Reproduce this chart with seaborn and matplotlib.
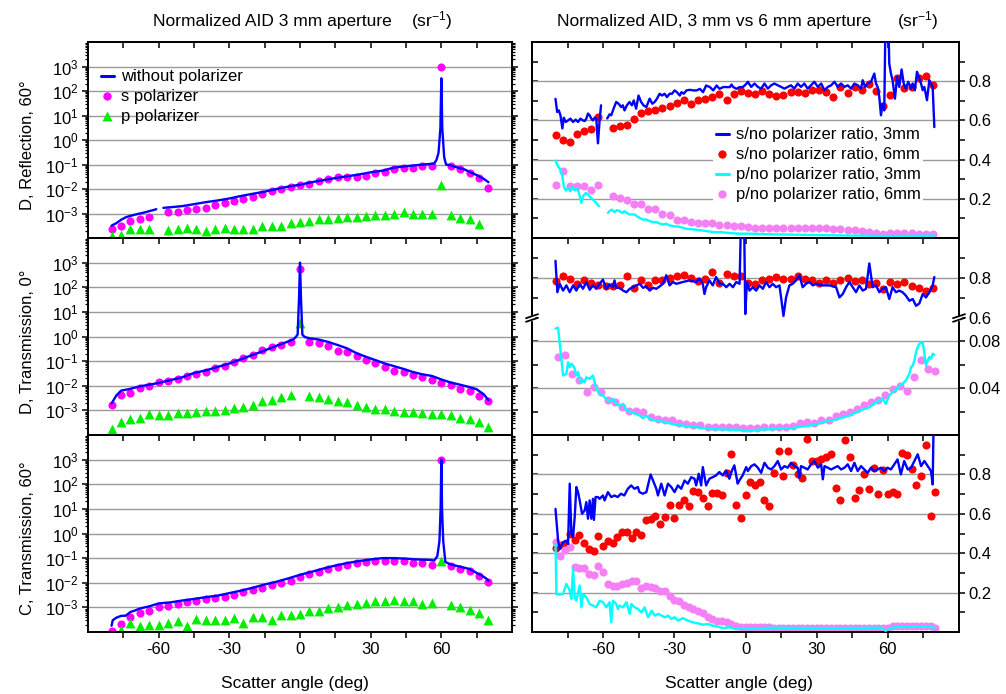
import numpy as np
import matplotlib
matplotlib.use('Agg')
import matplotlib.pyplot as plt
import seaborn as sns
from matplotlib.lines import Line2D
from matplotlib.patches import Rectangle
from matplotlib.ticker import LogLocator, NullFormatter

sns.set_style('white')
plt.rcParams['font.family'] = ['Liberation Sans', 'DejaVu Sans']
plt.rcParams['mathtext.default'] = 'regular'
plt.rcParams['axes.unicode_minus'] = False
plt.rcParams['font.size'] = 12
plt.rcParams['axes.edgecolor'] = 'black'
plt.rcParams['axes.linewidth'] = 1.4
plt.rcParams['xtick.color'] = 'black'
plt.rcParams['ytick.color'] = 'black'
plt.rcParams['text.color'] = 'black'

NAN = np.nan
BLUE = '#0000ff'
MAGENTA = '#ff00ff'
GREEN = '#00ee00'
RED = '#ff0000'
PINK = '#f580f5'
CYAN = '#00ffff'
GRID = '#9a9a9a'

# ---------------- left column: normalized AID, 3 mm aperture ----------------
ang4 = list(range(-80, 81, 4))

refl_s = [2.3e-4, 3.0e-4, 5.0e-4, 6.0e-4, 7.0e-4, NAN, 1.1e-3, 1.2e-3, 1.35e-3, 1.5e-3,
          1.6e-3, 2.2e-3, 2.6e-3, 3.2e-3, 3.8e-3, 4.9e-3, 6.5e-3, 8.3e-3, 0.0102, 0.012,
          0.0145, 0.0155, 0.021, 0.025, 0.030, 0.030, 0.031, 0.033, 0.046, 0.050,
          0.064, 0.070, 0.071, 0.085, 0.090, 1000, 0.085, 0.065, 0.045, 0.029, 0.011]
refl_p = [1.2e-4, 1.3e-4, 2.3e-4, 2.3e-4, 2.4e-4, NAN, 2.1e-4, 2.4e-4, 2.6e-4, 2.3e-4,
          2.0e-4, 2.3e-4, 2.6e-4, 2.3e-4, 2.4e-4, 2.4e-4, 3.0e-4, 3.0e-4, 3.2e-4, 4.0e-4,
          4.6e-4, 5.0e-4, 5.8e-4, 6.2e-4, 6.5e-4, 7.2e-4, 7.0e-4, 8.0e-4, 8.5e-4, 8.7e-4,
          1.0e-3, 1.1e-3, 1.0e-3, 1.0e-3, 1.0e-3, 0.014, 8.5e-4, 6.3e-4, 5.8e-4, 3.7e-4, NAN]
refl_ang = [-80, -78, -76, -74, -72, -70, -68, -66, -64, -62, -61, -60, -58, -55, -50, -45,
            -40, -35, -30, -25, -20, -15, -10, -5, 0, 5, 10, 15, 20, 25, 30, 35, 40, 45, 50,
            55, 57, 58, 58.8, 59.6, 60, 60.4, 61.2, 62, 64, 67, 70, 72, 75, 78, 80]
refl_no = [3.2e-4, 4.0e-4, 5.5e-4, 7.0e-4, 8.0e-4, 9.0e-4, 1.0e-3, 1.1e-3, 1.25e-3, 1.4e-3,
           1.5e-3, NAN, 1.7e-3, 1.8e-3, 2.0e-3, 2.4e-3, 2.9e-3, 3.4e-3, 4.1e-3, 5.2e-3,
           6.4e-3, 7.8e-3, 0.010, 0.0125, 0.015, 0.019, 0.023, 0.028, 0.033, 0.039, 0.048,
           0.056, 0.075, 0.085, 0.095, 0.105, 0.11, 0.16, 0.3, 3, 330, 3, 0.2, 0.1, 0.092,
           0.075, 0.062, 0.05, 0.037, 0.026, 0.019]

trans0_s = [1.7e-3, 4.4e-3, 5.1e-3, 8.2e-3, 9.5e-3, 0.014, 0.016, 0.018, 0.024, 0.030,
            0.037, 0.051, 0.065, 0.095, 0.13, 0.18, 0.29, 0.36, 0.45, 0.61, 540, 0.61,
            0.52, 0.42, 0.25, 0.23, 0.165, 0.115, 0.081, 0.059, 0.041, 0.036, 0.028,
            0.022, 0.017, 0.013, 0.0105, 0.0074, 0.006, 0.0037, 0.0023]
trans0_p = [1.8e-4, 3.3e-4, 4.6e-4, 5.0e-4, 7.2e-4, 6.6e-4, 6.6e-4, 7.8e-4, 7.8e-4, 8.5e-4,
            9.3e-4, 9.3e-4, 1.05e-3, 1.2e-3, 1.4e-3, 1.7e-3, 2.3e-3, 2.7e-3, 3.4e-3, 4.3e-3,
            3.5, 3.7e-3, 3.4e-3, 3.0e-3, 2.5e-3, 2.1e-3, 1.7e-3, 1.35e-3, 1.15e-3, 1.15e-3,
            9.8e-4, 8.9e-4, 8.5e-4, 7.8e-4, 7.2e-4, 6.8e-4, 6.6e-4, 5.0e-4, 4.6e-4, 3.5e-4, 2.1e-4]
trans0_ang = [-80, -78, -76, -72, -68, -64, -60, -55, -50, -45, -40, -35, -30, -25, -20,
              -15, -10, -6, -3, -2, -1, -0.4, 0, 0.4, 1, 2, 4, 8, 12, 16, 20, 24, 28, 32,
              36, 40, 44, 48, 52, 56, 60, 64, 68, 72, 75, 78, 80]
trans0_no = [1.9e-3, 4.0e-3, 6.3e-3, 7.5e-3, 9.5e-3, 0.011, 0.013, 0.017, 0.022, 0.033,
             0.042, 0.058, 0.08, 0.12, 0.18, 0.27, 0.42, 0.58, 0.75, 0.9, 1.2, 40, 1000,
             40, 1.2, 0.95, 0.85, 0.75, 0.6, 0.45, 0.33, 0.21, 0.15, 0.11, 0.08, 0.062,
             0.048, 0.036, 0.029, 0.025, 0.018, 0.0135, 0.011, 0.0088, 0.0072, 0.0045, 0.0026]

c60_s = [1.1e-4, 2.1e-4, 4.1e-4, 5.9e-4, 7.1e-4, 1.0e-3, 1.1e-3, 1.4e-3, 1.65e-3, 1.75e-3,
         2.1e-3, 2.4e-3, 2.6e-3, 3.2e-3, 4.2e-3, 4.9e-3, 6.0e-3, 7.8e-3, 0.010, 0.0123,
         0.017, 0.023, 0.027, 0.037, 0.044, 0.055, 0.063, 0.069, 0.076, 0.076, 0.076,
         0.074, 0.066, 0.063, 0.055, 930, 0.046, 0.035, 0.030, 0.019, 0.011]
c60_p = [NAN, 1.26e-4, 2.3e-4, 1.8e-4, 1.95e-4, 1.95e-4, 2.3e-4, 2.75e-4, 1.8e-4, 3.5e-4,
         3.2e-4, 3.2e-4, 3.2e-4, 3.6e-4, 2.3e-4, 4.0e-4, 4.0e-4, 3.0e-4, 4.7e-4, 5.0e-4,
         5.5e-4, 6.8e-4, 7.2e-4, 9.3e-4, 1.0e-3, 1.3e-3, 1.4e-3, 1.5e-3, 1.75e-3, 1.75e-3,
         2.0e-3, 1.9e-3, 1.75e-3, 1.4e-3, 1.55e-3, 0.074, 1.3e-3, 1.0e-3, 8.1e-4, 6.0e-4, 3.0e-4]
c60_ang = [-80, -79.5, -78, -76, -74, -72, -70, -68, -64, -60, -55, -50, -45, -40, -35, -30,
           -25, -20, -15, -10, -5, 0, 5, 10, 15, 20, 25, 30, 35, 40, 45, 50, 55, 57, 58.3,
           59.2, 59.7, 60, 60.3, 60.8, 61.7, 64, 68, 72, 75, 77, 79, 80]
c60_no = [1.8e-4, 3.0e-4, 3.8e-4, 4.5e-4, 4.6e-4, 6.5e-4, 7.5e-4, 9.0e-4, 1.1e-3, 1.45e-3,
          1.6e-3, 1.9e-3, 2.2e-3, 2.6e-3, 3.0e-3, 3.8e-3, 4.8e-3, 6.3e-3, 8.5e-3, 0.011,
          0.015, 0.021, 0.028, 0.038, 0.050, 0.063, 0.076, 0.088, 0.10, 0.10, 0.095, 0.088,
          0.085, 0.08, 0.12, 0.5, 10, 1000, 10, 0.5, 0.07, 0.055, 0.045, 0.036, 0.025,
          0.02, 0.015, 0.012]

# ---------------- right column: polarizer ratios, 3 mm vs 6 mm ----------------
ang3 = list(range(-80, 80, 3))
ang3b = list(range(-79, 81, 3))
ang2 = list(range(-80, 81, 2))

# D, Reflection, 60 deg
r1_s3_ang = [-80.1, -79.4, -78.7, -78.0, -77.2, -76.6, -75.8, -74.8, -73.8, -72.7,
             -71.6, -70.6, -69.6, -68.5, -67.8, -67.1, -66.4, -65.7, -65.0, -64.3,
             -63.6, -62.9, -62.2, -61.5, -60.9, -60, -58.3, -57.3, -56.6, -55.6, -54.5,
             -53.5, -52.4, -51.7, -51.0, -50.0, -48.9, -47.9, -47.1, -46.1, -45.1, -44.0,
             -43.0, -41.8, -40.4, -39.3, -38.3, -37.3, -36.2, -35.2, -34.1, -33.1, -32.0,
             -31.0, -29.9, -28.9, -27.7, -27.0, -26.0, -24.9, -23.4, -22.0, -20.6, -19.2,
             -17.9, -16.6, -15.0, -13.6, -12.2, -10.9, -9.4, -8.0, -6.6, -5.9, -5.2, -3.8,
             -2.5, -1.1, 0.3,
             1.0, 2.4, 3.8, 5.2, 6.6, 8.0, 9.4, 10.8, 12.2, 13.6, 15.0, 16.4, 17.8, 19.2,
             20.6, 22.0, 23.4, 24.8, 26.2, 27.6, 29.0, 30.5, 31.9, 33.3, 34.7, 36.1, 37.5,
             38.9, 40.3, 41.7, 43.1, 44.5, 45.9, 47.3, 48.7, 49.4, 50.4, 51.5, 52.9, 54.3,
             55.0, 55.7, 56.4, 57.1, 57.8, 58.5, 59.2, 59.9, 60.6, 61.3, 62.0, 63.0, 63.9,
             64.8, 65.8, 66.7, 67.6, 68.6, 69.8, 70.5, 71.4, 72.3, 73.3, 74.0, 74.7, 75.4,
             76.5, 77.5, 78.2, 78.9, 79.6]
r1_s3 = [0.71, 0.643, 0.651, 0.626, 0.559, 0.614, 0.592, 0.60, 0.609, 0.592,
         0.604, 0.592, 0.609, 0.60, 0.597, 0.609, 0.635, 0.626, 0.609, 0.60,
         0.614, 0.609, 0.483, 0.60, 0.677, NAN, 0.61, 0.631, 0.626, 0.66, 0.694,
         0.685, 0.668, 0.677, 0.651, 0.677, 0.694, 0.677, 0.702, 0.66, 0.727, 0.694,
         0.677, 0.668, 0.711, 0.685, 0.694, 0.711, 0.736, 0.727, 0.736, 0.719, 0.736,
         0.736, 0.753, 0.744, 0.727, 0.744, 0.736, 0.753, 0.756, 0.753, 0.753, 0.761,
         0.744, 0.778, 0.77, 0.753, 0.778, 0.761, 0.77, 0.77, 0.77, 0.783, 0.77, 0.761,
         0.77, 0.77, 0.786,
         0.797, 0.771, 0.788, 0.771, 0.762, 0.788, 0.762, 0.779, 0.788, 0.779, 0.771,
         0.762, 0.771, 0.779, 0.762, 0.788, 0.771, 0.788, 0.762, 0.779, 0.797, 0.771,
         0.788, 0.754, 0.771, 0.779, 0.797, 0.771, 0.788, 0.771, 0.779, 0.762, 0.788,
         0.779, 0.762, 0.805, 0.771, 0.788, 0.797, 0.839, 0.788, 0.771, 0.72, 0.626,
         0.685, 0.651, 1.3, 1.3, 0.89, 0.839, 0.805, 0.711, 0.822, 0.771, 0.86, 0.788,
         0.762, 0.797, 0.762, 0.788, 0.754, 0.848, 0.814, 0.788, 0.754, 0.771, 0.703,
         0.805, 0.788, 0.771, 0.566]
r1_s6 = [0.525, 0.50, 0.488, 0.533, 0.547, 0.554, 0.618, NAN, 0.559, 0.57, 0.576, 0.609,
         0.638, 0.648, 0.651, 0.663, 0.672, 0.69, 0.702, 0.685, 0.705, 0.71, 0.719, 0.736,
         0.705, 0.736, 0.748, 0.74, 0.737, 0.75, 0.737, 0.723, 0.728, 0.745, 0.745, 0.742,
         0.754, 0.754, 0.745, 0.72, 0.77, 0.74, 0.77, 0.757, 0.788, 0.75, 0.674, 0.732,
         0.814, 0.766, 0.77, 0.814, 0.826, 0.78]
r1_p3_ang = [-80.1, -79.0, -78.0, -77.2, -76.6, -75.8, -74.8, -73.8, -73.0, -72.0, -71.0,
             -70.2, -69.2, -68.5, -67.3, -66.4, -65.7, -64.3, -62.9, -61.8, -60, -58.0,
             -57.3, -56.3, -55.2, -54.2, -53.1, -52.0, -51.0, -50.0, -48.9, -47.9, -46.7,
             -45.8, -44.7, -43.2, -41.8, -40.4, -39.0, -37.6, -36.2, -34.8, -33.4, -32.0,
             -30.6, -27.8, -24.9, -22.1, -19.2, -16.4, -13.6, -10.9, -8.1, -5.3, -2.5, 1.7,
             10, 20, 30, 40, 50, 60, 70, 79.6]
r1_p3 = [0.395, 0.365, 0.348, 0.314, 0.263, 0.243, 0.255, 0.238, 0.263, 0.243, 0.255,
         0.23, 0.179, 0.213, 0.23, 0.221, 0.213, 0.196, 0.179, 0.162, NAN, 0.128, 0.137,
         0.145, 0.132, 0.142, 0.137, 0.128, 0.137, 0.128, 0.12, 0.12, 0.12, 0.111, 0.103,
         0.094, 0.094, 0.086, 0.081, 0.081, 0.074, 0.069, 0.073, 0.064, 0.061, 0.057,
         0.047, 0.044, 0.04, 0.035, 0.03, 0.03, 0.027, 0.024, 0.022, 0.022, 0.019, 0.017,
         0.015, 0.013, 0.012, 0.01, 0.011, 0.012]
r1_p6 = [0.268, 0.344, 0.263, 0.263, 0.263, 0.243, 0.272, NAN, 0.213, 0.204, 0.196, 0.176,
         0.176, 0.149, 0.149, 0.12, 0.115, 0.094, 0.094, 0.083, 0.078, 0.078, 0.075, 0.066,
         0.064, 0.061, 0.061, 0.055, 0.053, 0.053, 0.053, 0.052, 0.052, 0.052, 0.052, 0.052,
         0.051, 0.05, 0.05, 0.047, 0.045, 0.042, 0.04, 0.036, 0.032, 0.028, 0.019, 0.025,
         0.024, 0.024, 0.023, 0.022, 0.022, 0.021]

# D, Transmission, 0 deg (broken axis)
r2_s3_ang = [-80.1, -79.3, -78.3, -76.9, -75.5, -74.1, -72.7, -71.3, -69.9, -68.5, -67.1,
             -65.7, -64.3, -62.9, -61.5, -60.1, -58.7, -57.3, -55.9, -55.2, -54.5, -53.1,
             -51.6, -50.2, -48.8, -47.4, -46.0, -44.6, -43.2, -41.8, -40.4, -39.0, -37.6,
             -36.2, -34.8, -33.4, -32.0, -30.6, -29.2, -26.4, -23.6, -20.8, -19.4, -18.0,
             -17.3, -16.6, -15.2, -13.8, -12.4, -10.9, -9.5, -8.1, -6.7, -5.3, -3.9, -2.5,
             -1.5, -0.8, -0.1, 0.6, 1.7, 3.1, 4.5, 5.9, 7.3, 8.7, 10.1, 11.5, 12.9, 14.3,
             15.0, 16.0, 17.1, 18.5, 19.9, 21.3, 22.7, 24.1, 25.5, 26.9, 28.4, 29.8, 32.6,
             35.4, 38.2, 39.6, 41.0, 42.4, 43.8, 45.2, 46.6, 48.0, 49.4, 50.8, 52.2, 53.6,
             55.0, 56.4, 57.8, 59.2, 60.6, 62.0, 63.4, 64.8, 66.2, 67.6, 69.1, 70.5, 71.9,
             73.3, 74.7, 76.1, 77.5, 78.9, 79.6]
r2_s3 = [0.886, 0.729, 0.771, 0.737, 0.763, 0.729, 0.763, 0.737, 0.771, 0.746, 0.78,
         0.741, 0.763, 0.746, 0.771, 0.792, 0.746, 0.768, 0.754, 0.788, 0.751, 0.751,
         0.737, 0.729, 0.746, 0.754, 0.763, 0.771, 0.751, 0.758, 0.737, 0.751, 0.746,
         0.758, 0.771, 0.814, 0.763, 0.78, 0.771, 0.78, 0.788, 0.78, 0.797, 0.771, 0.72,
         0.754, 0.788, 0.763, 0.805, 0.771, 0.771, 0.754, 0.771, 0.754, 0.78, 0.771, 1.3,
         1.3, 0.62, 0.78, 0.737, 0.754, 0.737, 0.763, 0.746, 0.78, 0.754, 0.771, 0.754,
         0.763, 0.703, 0.61, 0.703, 0.763, 0.771, 0.788, 0.814, 0.754, 0.771, 0.78, 0.763,
         0.771, 0.763, 0.763, 0.754, 0.703, 0.72, 0.754, 0.78, 0.754, 0.729, 0.763, 0.737,
         0.746, 0.873, 0.754, 0.763, 0.729, 0.746, 0.754, 0.695, 0.754, 0.729, 0.737,
         0.729, 0.712, 0.686, 0.695, 0.661, 0.673, 0.72, 0.703, 0.729, 0.763, 0.805]
r2_s6 = [0.783, 0.81, 0.797, 0.768, 0.788, 0.776, 0.763, 0.758, 0.758, 0.766, 0.808, 0.751,
         0.788, 0.763, 0.792, 0.792, 0.80, 0.808, 0.814, 0.80, 0.785, 0.797, 0.83, 0.776,
         0.819, 0.808, 0.808, 0.775, 0.768, 0.788, 0.797, 0.805, 0.797, 0.797, 0.81, 0.797,
         0.788, 0.776, 0.792, 0.775, 0.792, 0.802, 0.785, 0.788, 0.771, 0.776, 0.746, 0.78,
         0.771, 0.78, 0.758, 0.751, 0.737, 0.751]
r2_p3_ang = [-80.1, -79.0, -76.9, -75.5, -74.8, -74.1, -73.4, -72.7, -72.0, -71.3, -70.6,
             -69.9, -69.2, -68.5, -67.8, -67.1, -65.7, -64.3, -63.6, -62.9, -61.5, -60.1,
             -58.7, -57.3, -55.9, -54.5, -53.1, -51.6, -50.2, -48.8, -47.4, -46.0, -44.6,
             -43.2, -41.8, -40.4, -37.6, -34.8, -32.0, -29.2, -26.4, -23.6, -20.8, -18.0,
             -15.2, -8.1, -1.1, 0.3, 5.9, 12.9, 19.9, 24.1, 26.9, 29.8, 32.6, 35.4, 38.2,
             41.0, 43.8, 46.6, 49.4, 52.2, 55.0, 57.8, 59.2, 60.6, 62.0, 63.4, 64.8, 66.2,
             67.6, 69.1, 69.8, 70.5, 71.2, 71.9, 72.6, 73.3, 74.7, 75.4, 76.1, 76.8, 77.5,
             78.2, 78.9, 79.6]
r2_p3 = [0.0909, 0.0917, 0.0509, 0.0523, 0.0623, 0.058, 0.0609, 0.0594, 0.0566, 0.0509,
         0.0537, 0.048, 0.0451, 0.0466, 0.0451, 0.0494, 0.048, 0.0509, 0.0451, 0.0394,
         0.0351, 0.0337, 0.0309, 0.0286, 0.0309, 0.0266, 0.0251, 0.0266, 0.0209, 0.02,
         0.0194, 0.018, 0.0166, 0.0143, 0.0166, 0.0137, 0.0123, 0.0114, 0.01, 0.0086,
         0.008, 0.0074, 0.0066, 0.006, 0.0051, 0.0046, 0.0043, 0.0031, 0.0046, 0.0051,
         0.006, 0.0074, 0.008, 0.0089, 0.0109, 0.0123, 0.0131, 0.0151, 0.0166, 0.0194,
         0.0217, 0.0237, 0.028, 0.0309, 0.0266, 0.0337, 0.0366, 0.038, 0.0423, 0.0437,
         0.0466, 0.0523, 0.058, 0.0594, 0.0637, 0.0709, 0.0751, 0.078, 0.0794, 0.0694,
         0.0594, 0.0637, 0.0666, 0.0651, 0.0694, 0.0686]
r2_p6 = [0.0666, 0.0686, 0.0523, 0.0466, 0.0371, 0.0409, 0.0366, 0.03, 0.0286, 0.0237,
         0.0209, 0.0209, 0.0194, 0.0151, 0.0137, 0.0131, 0.0129, 0.01, 0.0094, 0.0089,
         0.0086, 0.0069, 0.0066, 0.0066, 0.0066, 0.0066, 0.006, 0.0057, 0.006, 0.0066,
         0.0066, 0.0066, 0.0071, 0.008, 0.01, 0.0109, 0.01, 0.0129, 0.0131, 0.016,
         0.018, 0.02, 0.0223, 0.0257, 0.028, 0.0303, 0.0343, 0.0394, 0.0417, 0.038,
         0.0494, 0.0637, 0.0566, 0.0551]

# C, Transmission, 60 deg
r3_s3_ang = [-80.1, -79.0, -78.3, -76.9, -75.5, -74.8, -74.1, -73.4, -72.7, -72.0, -71.3,
             -70.6, -69.9, -68.9, -67.8, -67.1, -66.4, -65.7, -65.0, -64.3, -63.9, -63.2,
             -62.2, -61.5, -60.1, -59.4, -58.0, -56.6, -55.2, -53.9, -52.5, -51.1, -49.6,
             -48.2, -46.8, -45.4, -44.7, -43.3, -41.8, -40.0, -39.0, -37.6, -36.9, -35.5,
             -34.1, -32.7, -31.3, -29.9, -28.5, -27.1, -25.7, -24.3, -22.9, -21.5, -20.8,
             -19.7, -18.7, -18.0, -16.6, -15.2, -13.8, -12.4, -11.0, -9.6, -8.2, -6.8,
             -5.7, -4.7, -3.3, -2.6, -1.2, 0.3,
             1.0, 2.4, 3.8, 5.2, 6.6, 8.0, 9.4, 10.8, 12.2, 13.6, 15.0, 16.4, 17.8, 19.2,
             20.6, 22.0, 22.7, 23.4, 24.8, 26.2, 27.6, 29.0, 30.5, 31.9, 32.6, 33.3, 34.7,
             36.1, 37.5, 38.9, 40.3, 41.7, 43.1, 44.5, 45.9, 47.3, 48.7, 50.1, 51.5, 52.9,
             54.3, 55.7, 57.1, 58.5, 59.9, 61.3, 62.7, 64.1, 65.5, 66.2, 66.9, 68.4, 69.8,
             71.2, 72.6, 74.0, 75.4, 76.8, 78.2, 78.9, 79.6]
r3_s3 = [0.625, 0.464, 0.422, 0.456, 0.464, 0.447, 0.753, 0.498, 0.481, 0.583, 0.736,
         0.71, 0.668, 0.60, 0.617, 0.659, 0.575, 0.668, 0.575, 0.676, 0.569, 0.685,
         0.685, 0.676, 0.693, 0.668, 0.71, 0.685, 0.693, 0.685, 0.702, 0.693, 0.727,
         0.744, 0.727, 0.736, 0.71, 0.702, 0.71, 0.80, 0.769, 0.727, 0.693, 0.753,
         0.693, 0.753, 0.736, 0.71, 0.744, 0.727, 0.769, 0.753, 0.786, 0.778, 0.744,
         0.803, 0.744, 0.837, 0.744, 0.778, 0.786, 0.795, 0.812, 0.795, 0.82, 0.778,
         0.82, 0.846, 0.753, 0.769, 0.795, 0.837,
         0.817, 0.842, 0.851, 0.834, 0.808, 0.859, 0.834, 0.825, 0.842, 0.868, 0.825,
         0.842, 0.834, 0.859, 0.842, 0.834, 0.783, 0.842, 0.834, 0.825, 0.851, 0.868,
         0.834, 0.851, 0.775, 0.842, 0.834, 0.825, 0.834, 0.842, 0.825, 0.834, 0.851,
         0.817, 0.859, 0.817, 0.842, 0.825, 0.808, 0.834, 0.817, 0.825, 0.834, 0.817,
         0.834, 0.825, 0.851, 0.876, 0.80, 0.834, 0.868, 0.825, 0.834, 0.868, 0.902,
         0.842, 0.868, 0.842, 0.817, 0.749, 1.3]
r3_s6 = [0.425, 0.44, 0.447, 0.498, 0.468, 0.49, 0.453, 0.422, 0.41, 0.488,
         0.439, 0.464, 0.454, 0.481, 0.507, 0.507, 0.478, 0.51, 0.49, 0.571,
         0.575, 0.59, 0.546, 0.585, 0.644, 0.58, 0.644, 0.668, 0.642, 0.715,
         0.71, 0.678, 0.64, 0.705, 0.705, 0.693, 0.807, 0.905, 0.646, 0.58,
         0.695, 0.761, 0.744, 0.761, 0.67, 0.639, 0.808, 0.919, 0.79, 0.919,
         0.847, 0.80, 0.78, 0.98, 0.868, 0.87, 0.88, 0.89, 0.905, 0.732,
         0.671, 0.973, 0.89, 0.68, 0.72, 0.80, 0.727, 0.834, 0.703, 0.822,
         0.703, 0.71, 0.698, 0.908, 0.897, 0.825, 0.744, 0.79, 0.949, 0.59, 0.71]
r3_p3_ang = [-80.1, -79.7, -78.3, -76.9, -75.5, -74.1, -73.4, -72.7, -72.0, -71.3, -69.9,
             -69.2, -68.5, -67.1, -65.7, -64.3, -62.9, -61.5, -60.1, -58.7, -57.3, -56.6,
             -55.9, -54.5, -53.8, -53.1, -51.7, -50.2, -48.8, -48.1, -46.7, -45.3, -43.9,
             -42.5, -41.1, -39.6, -38.2, -36.8, -35.4, -34.0, -32.6, -31.3, -29.9, -28.5,
             -26.4, -24.3, -22.2, -20.0, -17.9, -15.8, -13.7, -11.6, -9.5, -6.7, -3.9,
             -1.1, 1.7, 10, 20, 30, 40, 50, 57, 59, 61, 64, 70, 75, 78, 79.6]
r3_p3 = [0.447, 0.193, 0.19, 0.193, 0.244, 0.21, 0.168, 0.32, 0.176, 0.159, 0.236, 0.125,
         0.193, 0.176, 0.142, 0.134, 0.125, 0.159, 0.151, 0.125, 0.151, 0.049, 0.159,
         0.142, 0.117, 0.134, 0.125, 0.151, 0.092, 0.142, 0.125, 0.117, 0.10, 0.125,
         0.075, 0.108, 0.083, 0.092, 0.083, 0.075, 0.083, 0.066, 0.075, 0.058, 0.07,
         0.058, 0.049, 0.044, 0.037, 0.041, 0.032, 0.027, 0.02, 0.024, 0.015, 0.019,
         0.015, 0.022, 0.021, 0.02, 0.02, 0.021, 0.022, 0.006, 0.02, 0.025, 0.026,
         0.027, 0.025, 0.022]
r3_p6 = [0.456, 0.388, 0.417, 0.43, 0.329, 0.325, 0.325, 0.292, 0.29, 0.337,
         0.303, 0.244, 0.236, 0.236, 0.244, 0.249, 0.261, 0.258, 0.224, 0.236,
         0.227, 0.224, 0.21, 0.21, 0.181, 0.163, 0.159, 0.139, 0.125, 0.117,
         0.108, 0.097, 0.075, 0.066, 0.058, 0.054, 0.049, 0.041, 0.029, 0.027,
         0.027, 0.025, 0.024, 0.024, 0.023, 0.023, 0.022, 0.021, 0.022, 0.021,
         0.022, 0.022, 0.021, 0.021, 0.022, 0.021, 0.022, 0.022, 0.021, 0.021,
         0.022, 0.021, 0.021, 0.022, 0.021, 0.022, 0.021, 0.021, 0.022, 0.021,
         0.02, 0.028, 0.03, 0.032, 0.032, 0.031, 0.03, 0.03, 0.029, 0.028, 0.022]

row_labels = ['D, Reflection, 60°', 'D, Transmission, 0°', 'C, Transmission, 60°']
left_legend = ['without polarizer', 's polarizer', 'p polarizer']
right_legend = ['s/no polarizer ratio, 3mm', 's/no polarizer ratio, 6mm',
                'p/no polarizer ratio, 3mm', 'p/no polarizer ratio, 6mm']

# ---------------- helpers ----------------
W, H = 1006, 694
XMAJ = [-60, -30, 0, 30, 60]
XMIN = [-75, -45, -15, 15, 45, 75]
LOGMAJ = [1e-3, 1e-2, 1e-1, 1e0, 1e1, 1e2, 1e3]
DOT = 34
TRI = 50


def box(x0, y0, x1, y1):
    return [x0 / W, 1 - y1 / H, (x1 - x0) / W, (y1 - y0) / H]


def line(ax, x, y, color, lw=1.7):
    x = np.asarray(x, float)
    y = np.asarray(y, float)
    cuts = np.flatnonzero(np.isnan(y))
    for seg in np.split(np.arange(len(y)), cuts):
        seg = seg[~np.isnan(y[seg])]
        if len(seg) > 1:
            sns.lineplot(x=x[seg], y=y[seg], ax=ax, color=color, lw=lw,
                         sort=False, estimator=None, zorder=3)


def dots(ax, x, y, color, marker='o', s=DOT, clip=True):
    sns.scatterplot(x=x, y=y, ax=ax, color=color, marker=marker, s=s,
                    linewidth=0, zorder=2, clip_on=clip)


def style_x(ax, labels, top=True, bottom=True):
    ax.set_xlim(-90, 90)
    ax.set_xticks(XMAJ)
    ax.set_xticks(XMIN, minor=True)
    ax.tick_params(axis='x', which='both', direction='out', length=4, width=1.1,
                   top=False, bottom=bottom, labelbottom=labels, labelsize=12, pad=3)
    if top:
        sec = ax.secondary_xaxis('top')
        sec.set_xticks(XMAJ)
        sec.set_xticks(XMIN, minor=True)
        sec.tick_params(axis='x', which='both', direction='in', length=4, width=1.1,
                        labeltop=False)
        sec.spines['top'].set_linewidth(1.4)
    ax.set_xlabel('')


def style_log(ax):
    ax.set_ylim(1e-4, 1e4)
    ax.set_yticks(LOGMAJ)
    ax.yaxis.set_minor_locator(LogLocator(base=10, subs=np.arange(2, 10), numticks=30))
    ax.yaxis.set_minor_formatter(NullFormatter())
    ax.tick_params(axis='y', which='major', direction='out', length=4, width=1.1,
                   left=True, right=True, labelsize=12, pad=3)
    ax.tick_params(axis='y', which='minor', direction='out', length=2.5, width=0.9,
                   left=True, right=True)
    for v in LOGMAJ:
        ax.axhline(v, color=GRID, lw=1.0, zorder=1)
    ax.set_ylabel('')


def style_ratio(ax, lim, major, minor, grid):
    ax.set_ylim(*lim)
    ax.yaxis.tick_right()
    ax.set_yticks(major, labels=[f'{v:g}' for v in major])
    ax.set_yticks(minor, minor=True)
    ax.tick_params(axis='y', which='both', direction='out', length=4, width=1.1,
                   right=True, left=False, labelright=True, labelleft=False,
                   labelsize=12, pad=3)
    sec = ax.secondary_yaxis('left')
    sec.set_yticks(major)
    sec.set_yticks(minor, minor=True)
    sec.tick_params(axis='y', which='both', direction='in', length=4, width=1.1,
                    labelleft=False)
    sec.spines['left'].set_linewidth(1.4)
    for v in grid:
        ax.axhline(v, color=GRID, lw=1.0, zorder=1)
    ax.set_ylabel('')


# ---------------- figure ----------------
fig = plt.figure(figsize=(W / 100, H / 100), dpi=100)

rows = [(42, 238), (238, 435), (435, 632)]
left_data = [
    (refl_ang, refl_no, refl_s, refl_p),
    (trans0_ang, trans0_no, trans0_s, trans0_p),
    (c60_ang, c60_no, c60_s, c60_p),
]

for i, ((y0, y1), (la, lno, ls, lp)) in enumerate(zip(rows, left_data)):
    ax = fig.add_axes(box(88, y0, 512, y1))
    ax.set_yscale('log')
    dots(ax, ang4, ls, MAGENTA, 'o', DOT)
    dots(ax, ang4, lp, GREEN, '^', TRI)
    line(ax, la, lno, BLUE)
    style_log(ax)
    style_x(ax, labels=(i == 2))
    fig.text(27 / W, 1 - (y0 + y1 + 10) / 2 / H, row_labels[i], rotation=90,
             ha='center', va='center', fontsize=12)
    if i == 0:
        handles = [Line2D([], [], color=BLUE, lw=2.2),
                   Line2D([], [], ls='none', marker='o', color=MAGENTA, ms=6, mec='none'),
                   Line2D([], [], ls='none', marker='^', color=GREEN, ms=7, mec='none')]
        ax.legend(handles, left_legend, loc='upper left', bbox_to_anchor=(0.03, 0.86),
                  frameon=False, handlelength=0.8, handletextpad=0.4, labelspacing=0.3,
                  borderpad=0, borderaxespad=0, fontsize=12)

# right panel 1
ax = fig.add_axes(box(532, 42, 959, 238))
dots(ax, ang3, r1_s6, RED)
dots(ax, ang3, r1_p6, PINK)
line(ax, r1_s3_ang, r1_s3, BLUE)
line(ax, r1_p3_ang, r1_p3, CYAN)
style_ratio(ax, (0, 1), [0.2, 0.4, 0.6, 0.8], [0.1, 0.3, 0.5, 0.7, 0.9], [0.2, 0.4, 0.6, 0.8])
style_x(ax, labels=False)
handles = [Line2D([], [], color=BLUE, lw=2.2),
           Line2D([], [], ls='none', marker='o', color=RED, ms=6, mec='none'),
           Line2D([], [], color=CYAN, lw=2.2),
           Line2D([], [], ls='none', marker='o', color=PINK, ms=6, mec='none')]
leg = ax.legend(handles, right_legend, loc='upper left', bbox_to_anchor=(0.424, 0.577),
                frameon=True, fancybox=False, framealpha=1, facecolor='white',
                edgecolor='none', handlelength=0.8, handletextpad=0.4, labelspacing=0.3,
                borderpad=0.15, borderaxespad=0, fontsize=12)
leg.set_zorder(6)

# right panel 2, upper part
BRK = 318
ax = fig.add_axes(box(532, 238, 959, BRK))
dots(ax, ang3, r2_s6, RED)
line(ax, r2_s3_ang, r2_s3, BLUE)
style_ratio(ax, (0.6, 1.0), [0.6, 0.8], [0.7, 0.9], [0.8])
style_x(ax, labels=False, bottom=False)
ax.spines['bottom'].set_visible(False)

# right panel 2, lower part
ax = fig.add_axes(box(532, BRK, 959, 435))
dots(ax, ang3b, r2_p6, PINK)
line(ax, r2_p3_ang, r2_p3, CYAN)
style_ratio(ax, (0, 0.1), [0.04, 0.08], [0.02, 0.06], [0.04, 0.08])
style_x(ax, labels=False, top=False)
ax.spines['top'].set_visible(False)

# break marks
for xp in (532, 959):
    fig.add_artist(Rectangle(((xp - 2) / W, 1 - (BRK + 2) / H), 4 / W, 4 / H,
                             transform=fig.transFigure, color='white', zorder=10))
    for dy in (-1.8, 1.8):
        fig.add_artist(Line2D([(xp - 6) / W, (xp + 6) / W],
                              [1 - (BRK + dy + 2) / H, 1 - (BRK + dy - 2) / H],
                              transform=fig.transFigure, color='black', lw=1.3, zorder=11))

# right panel 3
ax = fig.add_axes(box(532, 435, 959, 632))
dots(ax, ang2, r3_s6, RED, clip=False)
dots(ax, ang2, r3_p6, PINK)
line(ax, r3_s3_ang, r3_s3, BLUE)
line(ax, r3_p3_ang, r3_p3, CYAN)
style_ratio(ax, (0, 1), [0.2, 0.4, 0.6, 0.8], [0.1, 0.3, 0.5, 0.7, 0.9], [0.2, 0.4, 0.6, 0.8])
style_x(ax, labels=True)

# titles and axis captions
fig.text(272 / W, 1 - 26 / H, 'Normalized AID 3 mm aperture', ha='center', va='baseline', fontsize=12.5)
fig.text(432 / W, 1 - 26 / H, '(sr$^{-1}$)', ha='center', va='baseline', fontsize=12.5)
fig.text(714 / W, 1 - 26 / H, 'Normalized AID, 3 mm vs 6 mm aperture', ha='center', va='baseline', fontsize=12.5)
fig.text(918 / W, 1 - 26 / H, '(sr$^{-1}$)', ha='center', va='baseline', fontsize=12.5)
fig.text(295 / W, 1 - 688 / H, 'Scatter angle (deg)', ha='center', va='baseline', fontsize=12.5)
fig.text(739 / W, 1 - 688 / H, 'Scatter angle (deg)', ha='center', va='baseline', fontsize=12.5)

fig.savefig('out.png', dpi=100)
